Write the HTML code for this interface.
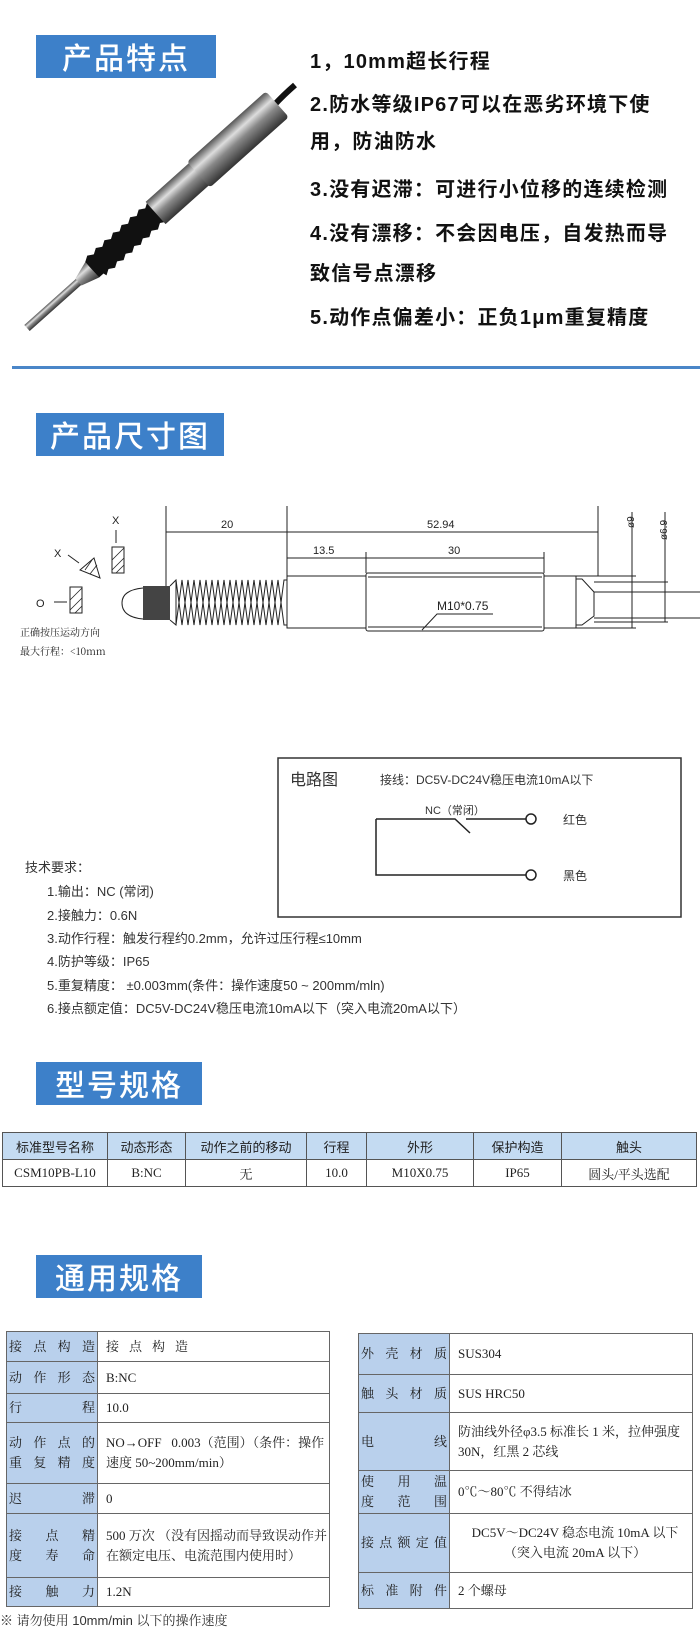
<!DOCTYPE html>
<html><head><meta charset="utf-8"><style>
body{margin:0;background:#fff;}
#p{position:relative;width:700px;height:1640px;overflow:hidden;background:#fff;font-family:"Liberation Sans","Noto Sans CJK SC",sans-serif;}
.ban{position:absolute;left:36px;height:43px;background:#3d80c9;color:#fff;font-size:30px;line-height:43px;text-align:center;letter-spacing:2px;font-family:"Noto Sans CJK SC",sans-serif;font-weight:500;}
.f{position:absolute;left:310px;font-size:20px;letter-spacing:1.2px;font-weight:bold;color:#111;white-space:nowrap;font-family:"Liberation Sans","Noto Sans CJK SC",sans-serif;}
.t{position:absolute;font-size:13px;color:#333;white-space:nowrap;}
table{border-collapse:collapse;position:absolute;font-family:"Liberation Serif","Noto Serif CJK SC",serif;}
table.m td{border:1px solid #555;text-align:center;font-size:13px;padding:0;color:#222;}
table.m tr.h td{background:#c4dbf2;font-family:"Noto Sans CJK SC",sans-serif;}
table.s td{border:1.5px solid #666;font-size:13px;color:#222;padding:0 0 0 8px;line-height:20px;}
table.s td.l{background:#b9d0ec;padding:0 2px;text-align:justify;text-align-last:justify;width:86px;}
</style></head><body><div id="p">

<div class="ban" style="top:35px;width:180px;">产品特点</div>
<svg style="position:absolute;left:0;top:80px" width="300" height="270">
<defs><linearGradient id="sg" x1="0" y1="0" x2="0" y2="1"><stop offset="0" stop-color="#555"/><stop offset=".3" stop-color="#ddd"/><stop offset=".55" stop-color="#888"/><stop offset="1" stop-color="#333"/></linearGradient></defs>
<path d="M258 45 Q272 25 295 5" stroke="#111" stroke-width="6" fill="none"/>
<g transform="translate(27,248) rotate(-41.8) scale(1.15)">
<rect x="0" y="-3.5" width="62" height="7" fill="url(#sg)"/>
<polygon points="60,-4 76,-9 76,9 60,4" fill="url(#sg)"/>
<g fill="#111"><rect x="76" y="-9" width="76" height="18"/>
<path d="M76 -9 l5 -3 l5 3 l5 -3 l5 3 l5 -3 l5 3 l5 -3 l5 3 l5 -3 l5 3 l5 -3 l5 3 l5 -3 l5 3 l5 -3 l5 3 l1 0 v18 l-5 3 l-5 -3 l-5 3 l-5 -3 l-5 3 l-5 -3 l-5 3 l-5 -3 l-5 3 l-5 -3 l-5 3 l-5 -3 l-5 3 l-5 -3 l-5 3 z"/></g>
<rect x="150" y="-13" width="52" height="26" fill="url(#sg)"/>
<rect x="200" y="-15" width="92" height="30" rx="3" fill="url(#sg)"/>
</g></svg>

<div class="f" style="top:45px">1，10mm超长行程</div>
<div class="f" style="top:88px">2.防水等级IP67可以在恶劣环境下使</div>
<div class="f" style="top:125px">用，防油防水</div>
<div class="f" style="top:173px">3.没有迟滞：可进行小位移的连续检测</div>
<div class="f" style="top:217px">4.没有漂移：不会因电压，自发热而导</div>
<div class="f" style="top:257px">致信号点漂移</div>
<div class="f" style="top:301px">5.动作点偏差小：正负1μm重复精度</div>
<div style="position:absolute;left:12px;top:366px;width:688px;height:3px;background:#4a86c8"></div>

<div class="ban" style="top:413px;width:188px;">产品尺寸图</div>

<svg style="position:absolute;left:0;top:480px" width="700" height="190" font-family="Liberation Sans, sans-serif">
<g stroke="#222" fill="none" stroke-width="1">
<line x1="166" y1="26" x2="166" y2="110"/><line x1="287" y1="26" x2="287" y2="96"/>
<line x1="598" y1="26" x2="598" y2="96"/>
<line x1="166" y1="52" x2="287" y2="52"/><line x1="287" y1="52" x2="598" y2="52"/>
<line x1="287" y1="78" x2="366" y2="78"/><line x1="366" y1="78" x2="544" y2="78"/>
<line x1="366" y1="72" x2="366" y2="93"/><line x1="544" y1="72" x2="544" y2="93"/>
<rect x="287" y="96" width="79" height="52"/>
<rect x="366" y="93" width="178" height="58" rx="2"/>
<line x1="368" y1="97" x2="542" y2="97"/><line x1="368" y1="147" x2="542" y2="147"/>
<rect x="544" y="96" width="32" height="52"/>
<path d="M576 99 V145 M576 99 L582 99 L594 112 L594 136 L582 145 L576 145"/>
<line x1="594" y1="112" x2="700" y2="112"/><line x1="594" y1="138" x2="700" y2="138"/>
<line x1="576" y1="96" x2="636" y2="96"/><line x1="576" y1="148" x2="636" y2="148"/>
<line x1="594" y1="102" x2="668" y2="102"/><line x1="594" y1="142" x2="668" y2="142"/>
<line x1="632" y1="32" x2="632" y2="148"/><line x1="665" y1="32" x2="665" y2="142"/>
<path d="M493 134 H437 L422 150"/>
<path d="M170 106 L176 100 L182 145 L188 100 L194 145 L200 100 L206 145 L212 100 L218 145 L224 100 L230 145 L236 100 L242 145 L248 100 L254 145 L260 100 L266 145 L272 100 L278 145 L284 100 L287 100"/>
<path d="M170 140 L176 145 L182 100 L188 145 L194 100 L200 145 L206 100 L212 145 L218 100 L224 145 L230 100 L236 145 L242 100 L248 145 L254 100 L260 145 L266 100 L272 145 L278 100 L284 145 L287 145"/>
<line x1="176" y1="100" x2="176" y2="145"/>
<path d="M143 108 Q122 110 122 123 Q122 137 143 139"/>
<rect x="112" y="67" width="12" height="26"/>
<line x1="116" y1="50" x2="116" y2="63"/>
<polygon points="80,90 94,78 100,98" />
<line x1="68" y1="75" x2="79" y2="83"/>
<rect x="70" y="107" width="12" height="26"/>
<line x1="54" y1="122" x2="67" y2="122"/>
<g stroke-width=".8"><line x1="112" y1="80" x2="124" y2="68"/><line x1="112" y1="90" x2="124" y2="78"/><line x1="116" y1="93" x2="124" y2="85"/>
<line x1="70" y1="120" x2="82" y2="108"/><line x1="70" y1="130" x2="82" y2="118"/><line x1="75" y1="133" x2="82" y2="126"/>
<line x1="85" y1="90" x2="92" y2="80"/><line x1="90" y1="94" x2="97" y2="85"/></g>
</g>
<rect x="143" y="106" width="27" height="34" fill="#444"/>
<g font-size="11" fill="#222">
<text x="221" y="48">20</text><text x="427" y="48">52.94</text>
<text x="313" y="74">13.5</text><text x="448" y="74">30</text>
<text x="437" y="130" font-size="12">M10*0.75</text>
<text x="112" y="44">X</text><text x="54" y="77">X</text><text x="36" y="127">O</text>
<text transform="translate(634,48) rotate(-90)" font-size="10">ø9</text>
<text transform="translate(667,60) rotate(-90)" font-size="10">ø6.9</text>
<text x="20" y="156" font-size="10" font-family="Noto Serif CJK SC,serif">正确按压运动方向</text>
<text x="20" y="175" font-size="10" font-family="Noto Serif CJK SC,serif">最大行程：&lt;10mm</text>
</g></svg>

<svg style="position:absolute;left:0;top:750px" width="700" height="280" font-family="Liberation Sans, Noto Sans CJK SC, sans-serif">
<rect x="278" y="8" width="403" height="159" fill="none" stroke="#333" stroke-width="1.5"/>
<text x="290" y="35" font-size="16" fill="#333">电路图</text>
<text x="380" y="34" font-size="12" fill="#333">接线：DC5V-DC24V稳压电流10mA以下</text>
<text x="425" y="64" font-size="11" fill="#333">NC（常闭）</text>
<g stroke="#222" stroke-width="1.5" fill="none">
<path d="M376 69 H455 L470 83 M466 69 H526 M376 69 V125 H526"/>
<circle cx="531" cy="69" r="5"/><circle cx="531" cy="125" r="5"/></g>
<text x="563" y="74" font-size="12" fill="#333">红色</text>
<text x="563" y="130" font-size="12" fill="#333">黑色</text>
<g font-size="13" fill="#333">
<text x="25" y="122">技术要求：</text>
<text x="47" y="146">1.输出：NC (常闭)</text>
<text x="47" y="170">2.接触力：0.6N</text>
<text x="47" y="193">3.动作行程：触发行程约0.2mm，允许过压行程≤10mm</text>
<text x="47" y="216">4.防护等级：IP65</text>
<text x="47" y="240">5.重复精度： ±0.003mm(条件：操作速度50 ~ 200mm/mln)</text>
<text x="47" y="263">6.接点额定值：DC5V-DC24V稳压电流10mA以下（突入电流20mA以下）</text>
</g></svg>

<div class="ban" style="top:1062px;width:166px;">型号规格</div>
<table class="m" style="left:2px;top:1132px;width:695px;">
<tr class="h" style="height:27px"><td style="width:104px">标准型号名称</td><td style="width:77px">动态形态</td><td style="width:120px">动作之前的移动</td><td style="width:59px">行程</td><td style="width:106px">外形</td><td style="width:87px">保护构造</td><td>触头</td></tr>
<tr style="height:27px"><td>CSM10PB-L10</td><td>B:NC</td><td>无</td><td>10.0</td><td>M10X0.75</td><td>IP65</td><td>圆头/平头选配</td></tr>
</table>

<div class="ban" style="top:1255px;width:166px;">通用规格</div>
<table class="s" style="left:6px;top:1331px;width:324px;">
<tr style="height:30px"><td class="l">接点构造</td><td style="letter-spacing:10px">接点构造</td></tr>
<tr style="height:32px"><td class="l">动作形态</td><td>B:NC</td></tr>
<tr style="height:29px"><td class="l">行 程</td><td>10.0</td></tr>
<tr style="height:61px"><td class="l">动 作 点 的<br>重 复 精 度</td><td>NO→OFF&nbsp;&nbsp;&nbsp;0.003（范围）（条件：操作速度 50~200mm/min）</td></tr>
<tr style="height:30px"><td class="l">迟 滞</td><td>0</td></tr>
<tr style="height:64px"><td class="l">接 点 精<br>度 寿 命</td><td>500 万次 （没有因摇动而导致误动作并在额定电压、电流范围内使用时）</td></tr>
<tr style="height:29px"><td class="l">接 触 力</td><td>1.2N</td></tr>
</table>
<table class="s" style="left:358px;top:1333px;width:335px;">
<tr style="height:41px"><td class="l">外壳材质</td><td>SUS304</td></tr>
<tr style="height:38px"><td class="l">触头材质</td><td>SUS HRC50</td></tr>
<tr style="height:58px"><td class="l">电 线</td><td>防油线外径φ3.5 标准长 1 米，拉伸强度 30N，红黑 2 芯线</td></tr>
<tr style="height:43px"><td class="l">使 用 温<br>度 范 围</td><td>0℃～80℃ 不得结冰</td></tr>
<tr style="height:59px"><td class="l">接点额定值</td><td style="text-align:center">DC5V～DC24V 稳态电流 10mA 以下<br>（突入电流 20mA 以下）</td></tr>
<tr style="height:36px"><td class="l">标准附件</td><td>2 个螺母</td></tr>
</table>
<div class="t" style="left:0;top:1610px;font-family:'Liberation Sans','Noto Serif CJK SC',serif;">※ 请勿使用 10mm/min 以下的操作速度</div>
</div></body></html>
